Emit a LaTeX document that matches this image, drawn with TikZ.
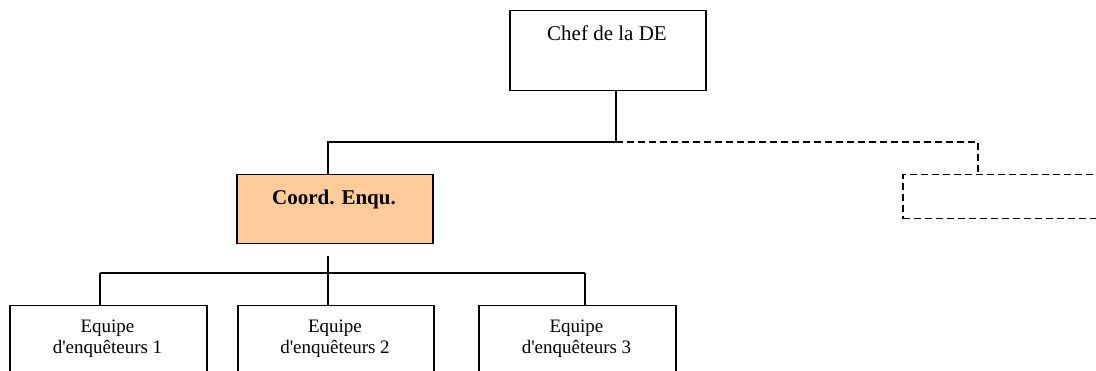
\documentclass[tikz,border=0pt]{standalone}
\usepackage{fontspec}
\setmainfont{Liberation Serif}
\newfontfamily\tnr{Liberation Serif}
\definecolor{peach}{HTML}{FFCC99}
\begin{document}
\begin{tikzpicture}[x=1pt,y=-1pt,
  box/.style={draw=black,line width=1.5pt,rectangle,anchor=north west,inner sep=0pt},
  conn/.style={draw=black,line width=1.5pt},
  dconn/.style={draw=black,line width=1.5pt,dash pattern=on 7pt off 4pt},
  lab/.style={anchor=base,inner sep=0pt,align=center}]
\clip (0,0) rectangle (1096,371);
% boxes
\node[box,minimum width=196pt,minimum height=80pt] (chef) at (509,10) {};
\node[box,fill=peach,minimum width=196pt,minimum height=69pt] (coord) at (236,174) {};
\node[box,dash pattern=on 7pt off 4pt,minimum width=260pt,minimum height=44pt] (dbox) at (902,174) {};
\node[box,minimum width=197pt,minimum height=90pt] (e1) at (9,305) {};
\node[box,minimum width=196pt,minimum height=90pt] (e2) at (237,305) {};
\node[box,minimum width=197pt,minimum height=90pt] (e3) at (478,305) {};
% labels
\node[lab,font=\fontsize{21}{24}\selectfont] (tchef) at (607,41) {Chef de la DE};
\node[lab,font=\fontsize{21}{24}\selectfont\bfseries] (tcoord) at (334,205) {Coord. Enqu.};
\node[lab,font=\tnr\fontsize{19}{21}\selectfont] (te1) at (107.5,354) {Equipe\\d'enquêteurs 1};
\node[lab,font=\tnr\fontsize{19}{21}\selectfont] (te2) at (335,354) {Equipe\\d'enquêteurs 2};
\node[lab,font=\tnr\fontsize{19}{21}\selectfont] (te3) at (576.5,354) {Equipe\\d'enquêteurs 3};
% junction coordinates
\coordinate (cj) at (616,142);
\coordinate (cl) at (328,142);
\coordinate (dj) at (978,142);
\coordinate (cb) at (328,256);
\coordinate (bj) at (328,273);
\coordinate (b1) at (100,273);
\coordinate (b3) at (585,273);
% connectors
\draw[conn] (chef.south -| cj) -- (cj);
\draw[conn] (cj) -- (cl) -- (coord.north -| cl);
\draw[dconn] (cj) -- (dj) -- (dbox.north -| dj);
\draw[conn] (cb) -- (bj);
\draw[conn] (b1) -- (b3);
\draw[conn] (b1) -- (e1.north -| b1);
\draw[conn] (bj) -- (e2.north -| bj);
\draw[conn] (b3) -- (e3.north -| b3);
\end{tikzpicture}
\end{document}
